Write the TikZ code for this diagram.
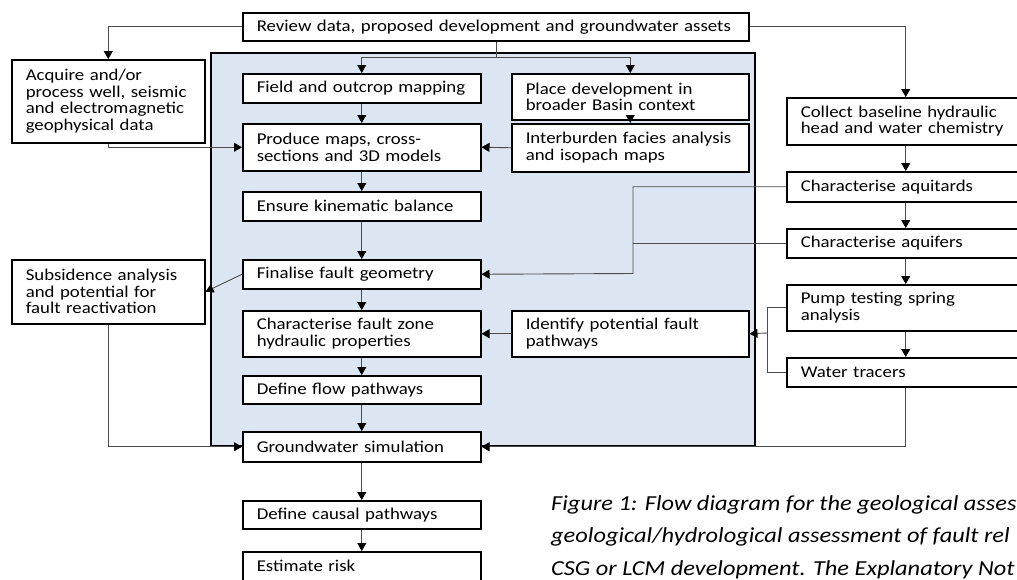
\documentclass[tikz,border=0pt]{standalone}
\usepackage{fontspec}
\setmainfont{Carlito}[FakeStretch=1.14]
\usepackage{xcolor}
\usepackage{tikz}
\usetikzlibrary{arrows.meta}
\definecolor{panelblue}{RGB}{220,230,242}
\definecolor{linegrey}{RGB}{75,75,75}
\tikzset{
	box/.style 2 args={draw=black, line width=1.5pt, fill=white, anchor=north west, align=left,
		inner xsep=14pt, inner ysep=1pt, text width=#1, minimum height=#2,
		font=\fontsize{16.5}{16.5}\selectfont},
	link/.style={draw=linegrey, line width=0.9pt},
	arr/.style={link, -{Triangle[length=8pt,width=9pt,color=black]}},
}

\begin{document}
\begin{tikzpicture}[x=1pt,y=-1pt]
		\clip (0,0) rectangle (1017,579);
		\draw [fill=panelblue,line width=1.6pt] (211,53) rectangle (755,446);
		\node [box={478pt}{28pt}] (review) at (242,12) {Review data, proposed development and groundwater assets};
		\node [box={165pt}{83pt}] (acquire) at (11,59) {Acquire and/or\\process well, seismic\\and electromagnetic\\geophysical data};
		\node [box={210pt}{29pt}] (field) at (242,73) {Field and outcrop mapping};
		\node [box={209pt}{46pt}] (place) at (511,73) {Place development in\\broader Basin context};
		\node [box={210pt}{47pt}] (produce) at (242,123) {Produce maps, cross-\\sections and 3D models};
		\node [box={209pt}{48pt}] (interb) at (511,123) {Interburden facies analysis\\and isopach maps};
		\node [box={210pt}{29pt}] (ensure) at (242,191) {Ensure kinematic balance};
		\node [box={210pt}{29pt}] (finalise) at (242,259) {Finalise fault geometry};
		\node [box={165pt}{64pt}] (subsid) at (11,259) {Subsidence analysis\\and potential for\\fault reactivation};
		\node [box={210pt}{46pt}] (zone) at (242,310) {Characterise fault zone\\hydraulic properties};
		\node [box={209pt}{46pt}] (identify) at (511,310) {Identify potential fault\\pathways};
		\node [box={210pt}{28pt}] (flow) at (242,375) {Define flow pathways};
		\node [box={210pt}{30pt}] (gwsim) at (242,431) {Groundwater simulation};
		\node [box={210pt}{28pt}] (causal) at (242,500) {Define causal pathways};
		\node [box={210pt}{29pt}] (risk) at (242,551) {Estimate risk};
		\node [box={210pt}{47pt}] (collect) at (786,97) {Collect baseline hydraulic\\head and water chemistry};
		\node [box={210pt}{30pt}] (aquitard) at (786,171) {Characterise aquitards};
		\node [box={210pt}{29pt}] (aquifer) at (786,228) {Characterise aquifers};
		\node [box={210pt}{46pt}] (pump) at (786,284) {Pump testing spring\\analysis};
		\node [box={210pt}{29pt}] (tracer) at (786,357) {Water tracers};
		\node [anchor=north west,align=left,inner sep=0pt,font=\itshape\fontsize{21.4}{32.5}\selectfont] (caption) at (551,495)
			{Figure 1: Flow diagram for the geological asses\\geological/hydrological assessment of fault rel\\CSG or LCM development. The Explanatory Not};
		\coordinate (split) at (496,57);
		\coordinate (bend) at (633,273.5);
		\coordinate (tap) at (767,333);
		\draw [link] (review.south -| split) -- (split);
		\draw [arr] (split) -| (field.north);
		\draw [arr] (split) -| (place.north);
		\draw [arr] (review.west) -| (acquire.north);
		\draw [arr] (review.east) -| (collect.north);
		\draw [arr] (acquire.south) |- (produce.west);
		\draw [arr] (interb.west) -- (produce.east);
		\draw [arr] (field.south) -- (produce.north);
		\draw [arr] (place.south) -- (interb.north);
		\draw [arr] (produce.south) -- (ensure.north);
		\draw [arr] (ensure.south) -- (finalise.north);
		\draw [arr] (finalise.south) -- (zone.north);
		\draw [arr] (zone.south) -- (flow.north);
		\draw [arr] (flow.south) -- (gwsim.north);
		\draw [arr] (gwsim.south) -- (causal.north);
		\draw [arr] (causal.south) -- (risk.north);
		\draw [arr] (finalise.west) -- (subsid.east);
		\draw [arr] (aquitard.west) -| (bend) -- (finalise.east);
		\draw [link] (aquifer.west) -- (aquifer.west -| bend);
		\draw [arr] (collect.south) -- (aquitard.north);
		\draw [arr] (aquitard.south) -- (aquifer.north);
		\draw [arr] (aquifer.south) -- (pump.north);
		\draw [arr] (pump.south) -- (tracer.north);
		\draw [link] (pump.west) -| (tap) |- (tracer.west);
		\draw [arr] (tap) -- (identify.east);
		\draw [arr] (identify.west) -- (zone.east);
		\draw [arr] (subsid.south) |- (gwsim.west);
		\draw [arr] (tracer.south) |- (gwsim.east);
	\end{tikzpicture}
\end{document}
